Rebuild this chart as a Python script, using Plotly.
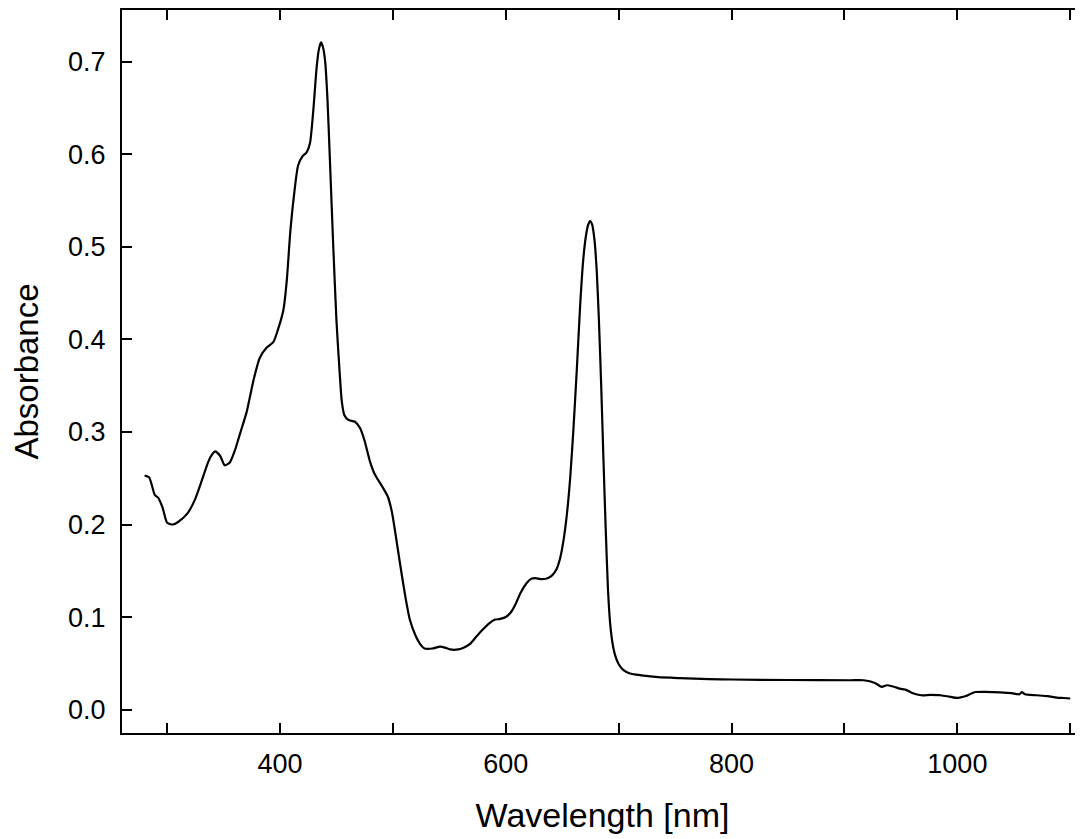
import plotly.graph_objects as go

wavelength_nm = [280, 284, 287, 289, 292, 296, 300, 305, 310, 318, 325, 330, 336.5, 340, 342.5, 347, 351, 355.5, 360, 364.5,
                 370.5, 376.5, 382, 388, 394, 398, 403, 406, 409, 412, 416, 420, 423.5, 426.5, 429.5, 432.5, 434.5, 436.3,
                 438, 440, 442, 444.3, 447, 450, 452.5, 454.7, 457, 460.5, 466.4, 471, 475, 479.7, 484, 487, 491, 495.5,
                 499, 502, 506, 511, 515, 520, 524, 528, 535, 541.7, 546, 550.6, 558, 563, 568.3, 574, 580, 585, 590, 595,
                 600, 605, 609, 613, 618, 622, 626, 631, 637, 641, 645, 648, 651, 654, 657, 660, 663, 666, 668.5, 671,
                 673, 674.6, 676.5, 678.5, 680.5, 682.5, 684.5, 686.5, 688.5, 690.5, 692.5, 694.5, 697, 700, 704, 710,
                 720, 735, 754, 780, 800, 850, 905, 917, 927, 933, 937.4, 943, 949, 955, 960, 968, 976, 985, 993, 999.4,
                 1003, 1007, 1011, 1016, 1025, 1038, 1048, 1055, 1057, 1060, 1070, 1080, 1088, 1094, 1100]
absorbance = [0.253, 0.251, 0.240, 0.232, 0.229, 0.218, 0.202, 0.200, 0.203, 0.212, 0.228, 0.245, 0.268, 0.276, 0.279, 0.274, 0.264, 0.267, 0.280, 0.298,
              0.322, 0.356, 0.380, 0.391, 0.397, 0.410, 0.432, 0.464, 0.515, 0.552, 0.588, 0.598, 0.602, 0.612, 0.648, 0.695, 0.714, 0.721,
              0.716, 0.700, 0.660, 0.590, 0.505, 0.420, 0.370, 0.333, 0.318, 0.313, 0.311, 0.304, 0.290, 0.268, 0.254, 0.248, 0.240, 0.230,
              0.214, 0.192, 0.160, 0.122, 0.097, 0.080, 0.071, 0.066, 0.066, 0.068, 0.067, 0.065, 0.065, 0.067, 0.071, 0.079, 0.087, 0.093, 0.097, 0.098,
              0.100, 0.106, 0.115, 0.126, 0.136, 0.141, 0.142, 0.141, 0.142, 0.145, 0.152, 0.163, 0.182, 0.210, 0.250, 0.305, 0.370, 0.440, 0.485, 0.512,
              0.524, 0.528, 0.524, 0.508, 0.475, 0.420, 0.350, 0.270, 0.195, 0.130, 0.092, 0.072, 0.058, 0.049, 0.043, 0.039,
              0.037, 0.035, 0.034, 0.033, 0.0325, 0.032, 0.0317, 0.0317, 0.0288, 0.0245, 0.0263, 0.025, 0.0227, 0.021, 0.018, 0.0155, 0.0158, 0.0155, 0.014, 0.0126,
              0.0132, 0.0144, 0.0165, 0.019, 0.0192, 0.0187, 0.0178, 0.0165, 0.019, 0.0165, 0.0155, 0.0145, 0.013, 0.0125, 0.012]

x_tickvals = [300, 400, 500, 600, 700, 800, 900, 1000, 1100]
x_ticktext = ["", "400", "", "600", "", "800", "", "1000", ""]
y_tickvals = [0.0, 0.1, 0.2, 0.3, 0.4, 0.5, 0.6, 0.7]
y_ticktext = ["0.0", "0.1", "0.2", "0.3", "0.4", "0.5", "0.6", "0.7"]

FONT = "Liberation Sans, Arial, sans-serif"

fig = go.Figure()
fig.add_trace(go.Scatter(x=wavelength_nm, y=absorbance, mode="lines",
                         line=dict(color="black", width=2.2, shape="spline", smoothing=0.6),
                         showlegend=False, hoverinfo="skip"))

# the page body has an 8px default margin, so the figure is made 8px smaller
fig.update_layout(
    width=1075, height=831,
    margin=dict(l=114, r=0, t=2, b=106),
    paper_bgcolor="white", plot_bgcolor="white",
    font=dict(family=FONT, color="black"),
)
fig.update_xaxes(
    range=[260, 1111.3], showgrid=False, zeroline=False, automargin=False,
    showline=True, linecolor="black", linewidth=2, mirror="ticks",
    ticks="inside", ticklen=10, tickwidth=2, tickcolor="black",
    tickvals=x_tickvals, ticktext=x_ticktext,
    tickfont=dict(size=27, family=FONT, color="black"),
    ticklabelstandoff=6,
    title=dict(text="Wavelength [nm]", font=dict(size=34, family=FONT, color="black"), standoff=25),
)
fig.update_yaxes(
    range=[-0.0253, 0.756], showgrid=False, zeroline=False, automargin=False,
    showline=True, linecolor="black", linewidth=2, mirror=False,
    ticks="inside", ticklen=10, tickwidth=2, tickcolor="black",
    tickvals=y_tickvals, ticktext=y_ticktext,
    tickfont=dict(size=27, family=FONT, color="black"),
    ticklabelstandoff=9,
    title=dict(text="Absorbance", font=dict(size=33, family=FONT, color="black"), standoff=25),
)

fig.write_html("out.html")
